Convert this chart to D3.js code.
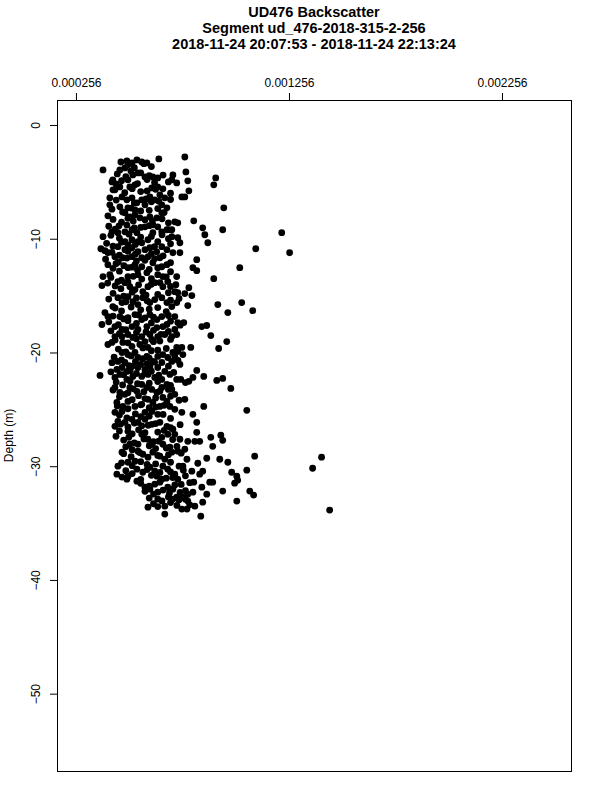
<!DOCTYPE html>
<html>
<head>
    <meta charset="utf-8">
    <title>UD476 Backscatter</title>
    <script src="https://d3js.org/d3.v7.min.js"></script>
    <style>
        body { margin: 0; background: #fff; }
        svg { display: block; font-family: "Liberation Sans", Arial, Helvetica, sans-serif; }
    </style>
</head>
<body>
    <div id="chart"></div>

    <script>
        // chart text
        const titleLines = [
            "UD476 Backscatter",
            "Segment ud_476-2018-315-2-256",
            "2018-11-24 20:07:53 - 2018-11-24 22:13:24"
        ];
        const yLabel = "Depth (m)";
        const xTicks = [0.000256, 0.001256, 0.002256];
        const yTicks = [0, -10, -20, -30, -40, -50];
        const xLimits = [0.000167, 0.00258];
        const yLimits = [2.2, -56.8];

        // samples, depth (m) and backscatter, same order
        const depth = [
            -2.81,-2.98,-3.25,-3.16,-3.33,-3.07,-3.25,-3.33,-3.95,-3.95,
            -3.77,-4.04,-4.39,-4.21,-4.56,-4.56,-4.65,-4.39,-4.82,-4.12,
            -5.0,-4.82,-4.91,-5.70,-5.44,-5.44,-5.26,-5.53,-5.44,-5.61,
            -5.09,-6.32,-6.32,-5.79,-6.40,-4.82,-5.18,-4.65,-5.26,-7.28,
            -6.32,-6.58,-6.40,-6.84,-6.58,-6.32,-6.58,-6.14,-6.40,-7.02,
            -7.19,-7.28,-7.46,-7.02,-7.02,-7.28,-7.98,-7.72,-8.07,-7.89,
            -8.16,-8.33,-8.07,-8.16,-7.72,-8.86,-8.95,-8.77,-8.95,-8.51,
            -8.60,-8.42,-9.04,-9.65,-10.35,-9.21,-9.82,-9.39,-9.47,-9.39,
            -9.21,-9.47,-9.47,-9.39,-9.21,-9.21,-9.82,-9.91,-10.26,-10.09,
            -10.26,-10.09,-10.26,-9.47,-10.88,-11.05,-11.23,-10.70,-10.96,-10.79,
            -11.14,-10.96,-10.79,-10.70,-10.96,-11.23,-10.35,-11.58,-11.67,-11.58,
            -11.67,-11.58,-11.67,-11.84,-10.88,-11.23,-11.23,-12.28,-12.19,-12.37,
            -12.54,-12.28,-12.46,-12.11,-12.46,-12.28,-12.54,-12.81,-12.54,-13.33,
            -13.16,-13.33,-13.16,-12.98,-13.16,-13.33,-13.33,-13.51,-14.12,-13.77,
            -13.86,-14.21,-14.39,-14.47,-14.65,-14.21,-13.86,-14.21,-13.77,-14.65,
            -14.74,-14.04,-14.30,-14.82,-15.00,-15.18,-15.61,-15.09,-15.53,-15.79,
            -15.18,-15.61,-15.35,-15.18,-15.61,-15.96,-15.96,-16.49,-16.84,-15.61,
            -15.88,-15.79,-15.61,-16.84,-16.93,-16.67,-17.11,-16.67,-17.11,-16.84,
            -16.84,-17.37,-17.98,-16.49,-16.32,-17.54,-17.72,-17.98,-17.72,-17.98,
            -17.72,-17.81,-17.72,-17.54,-17.37,-17.72,-17.63,-18.51,-18.42,-18.60,
            -18.60,-18.42,-18.68,-18.60,-18.42,-18.60,-18.42,-18.60,-19.04,-18.86,
            -19.30,-19.12,-19.12,-19.47,-19.30,-19.56,-19.56,-19.56,-19.91,-20.35,
            -19.56,-19.04,-19.65,-20.00,-20.18,-20.00,-20.44,-20.35,-20.18,-20.44,
            -20.79,-20.00,-20.79,-20.88,-20.79,-20.88,-21.05,-20.18,-22.02,-21.49,
            -21.32,-21.67,-21.23,-21.32,-21.49,-21.23,-21.32,-21.67,-22.19,-21.93,
            -22.37,-22.11,-22.11,-21.93,-22.19,-22.37,-21.93,-22.37,-22.37,-22.54,
            -22.19,-21.58,-22.11,-22.46,-22.28,-23.16,-23.07,-23.51,-23.68,-23.07,
            -23.42,-22.81,-23.07,-23.25,-23.51,-23.07,-22.81,-23.25,-23.68,-23.95,
            -24.12,-24.39,-24.74,-24.30,-24.74,-24.56,-24.12,-24.39,-24.74,-24.30,
            -24.74,-25.26,-25.18,-25.26,-25.18,-25.44,-25.26,-25.44,-26.14,-24.74,
            -25.09,-26.05,-26.14,-25.88,-26.14,-25.88,-26.32,-26.14,-26.49,-26.75,
            -26.93,-26.49,-27.46,-28.07,-27.19,-27.63,-28.07,-27.46,-27.19,-27.63,
            -27.81,-27.02,-27.81,-27.81,-27.46,-28.25,-27.28,-27.72,-28.07,-28.07,
            -28.33,-28.77,-28.68,-28.95,-29.21,-28.77,-29.12,-29.39,-28.77,-28.68,
            -28.51,-29.39,-29.74,-29.65,-29.56,-29.12,-29.21,-30.18,-29.30,-29.39,
            -29.65,-30.00,-30.00,-30.26,-30.53,-30.09,-30.44,-30.00,-30.26,-30.70,
            -30.70,-30.96,-31.14,-30.88,-31.14,-30.44,-31.14,-30.35,-30.53,-30.88,
            -31.23,-31.49,-31.40,-31.40,-31.40,-30.44,-30.70,-31.32,-31.84,-32.02,
            -31.58,-32.28,-31.84,-32.02,-32.72,-32.72,-32.46,-31.84,-32.19,-32.19,
            -32.54,-33.07,-32.46,-33.16,-33.07,-33.77,-33.77,-34.39,-33.86,-32.89,
            -32.28,-32.89,-33.60,-33.51,-34.21,-33.51,-27.37
        ];
        const backscatter = [
            0.000767,0.000645,0.000467,0.000495,0.000519,0.000542,0.000565,0.000589,0.000383,0.000462,
            0.000486,0.000514,0.000523,0.000547,0.000580,0.000617,0.000640,0.000711,0.000706,0.000772,
            0.000425,0.000500,0.000781,0.000439,0.000462,0.000509,0.000533,0.000612,0.000640,0.000664,
            0.000729,0.000753,0.000767,0.000786,0.000415,0.000429,0.000444,0.000912,0.000903,0.000950,
            0.000472,0.000495,0.000519,0.000542,0.000565,0.000603,0.000626,0.000650,0.000673,0.000415,
            0.000462,0.000500,0.000533,0.000580,0.000659,0.000683,0.000406,0.000486,0.000509,0.000533,
            0.000556,0.000580,0.000603,0.000636,0.000659,0.000458,0.000580,0.000617,0.000640,0.000720,
            0.000734,0.000809,0.000851,0.000861,0.000875,0.000945,0.000383,0.000425,0.000453,0.000486,
            0.000519,0.000542,0.000617,0.000659,0.000683,0.000706,0.000706,0.000734,0.000486,0.000519,
            0.000547,0.000594,0.000640,0.001222,0.000373,0.000392,0.000406,0.000453,0.000486,0.000519,
            0.000547,0.000580,0.000603,0.000659,0.000683,0.000711,0.000744,0.000439,0.000476,0.000519,
            0.000565,0.000594,0.000650,0.000823,0.001100,0.001259,0.000744,0.000406,0.000444,0.000481,
            0.000500,0.000533,0.000565,0.000617,0.000659,0.000683,0.000805,0.000823,0.001025,0.000383,
            0.000415,0.000500,0.000547,0.000589,0.000640,0.000664,0.000729,0.000903,0.000378,0.000453,
            0.000486,0.000509,0.000467,0.000533,0.000570,0.000594,0.000626,0.000664,0.000687,0.000720,
            0.000734,0.000725,0.000786,0.000767,0.000800,0.000453,0.000472,0.000500,0.000523,0.000547,
            0.000570,0.000603,0.000626,0.000659,0.000683,0.000706,0.000429,0.000392,0.000406,0.000729,
            0.000781,0.000922,0.001034,0.000462,0.000500,0.000533,0.000565,0.000603,0.000636,0.000659,
            0.000720,0.000734,0.000720,0.000969,0.001086,0.000378,0.000439,0.000472,0.000519,0.000547,
            0.000589,0.000636,0.000664,0.000683,0.000762,0.000847,0.000870,0.000889,0.000729,0.000439,
            0.000472,0.000500,0.000523,0.000565,0.000603,0.000640,0.000673,0.000706,0.000580,0.000612,
            0.000406,0.000425,0.000476,0.000519,0.000556,0.000594,0.000729,0.000753,0.000734,0.000720,
            0.000795,0.000964,0.000926,0.000472,0.000500,0.000533,0.000547,0.000589,0.000664,0.000687,
            0.000706,0.000711,0.000453,0.000486,0.000617,0.000659,0.000744,0.000758,0.000369,0.000448,
            0.000472,0.000495,0.000519,0.000547,0.000580,0.000603,0.000640,0.000673,0.000439,0.000462,
            0.000495,0.000523,0.000565,0.000594,0.000626,0.000659,0.000697,0.000729,0.000748,0.000786,
            0.000805,0.000823,0.000856,0.000917,0.000945,0.000983,0.000439,0.000462,0.000486,0.000509,
            0.000542,0.000565,0.000589,0.000612,0.000636,0.000659,0.000683,0.000706,0.000720,0.000664,
            0.000767,0.000448,0.000476,0.000500,0.000533,0.000565,0.000594,0.000617,0.000650,0.000683,
            0.000697,0.000439,0.000472,0.000580,0.000612,0.000640,0.000753,0.000805,0.000823,0.000856,
            0.001058,0.000453,0.000486,0.000519,0.000547,0.000580,0.000612,0.000650,0.000683,0.000711,
            0.000500,0.000439,0.000504,0.000509,0.000565,0.000594,0.000612,0.000659,0.000687,0.000744,
            0.000781,0.000823,0.000814,0.000837,0.000889,0.000898,0.000936,0.000945,0.000547,0.000664,
            0.000697,0.000472,0.000547,0.000570,0.000594,0.000617,0.000650,0.000673,0.000706,0.000734,
            0.000767,0.000777,0.000828,0.000500,0.000533,0.001095,0.001409,0.001367,0.000870,0.000931,
            0.000969,0.000758,0.000453,0.000542,0.000570,0.000603,0.000626,0.000664,0.000687,0.000720,
            0.000448,0.000472,0.000495,0.000636,0.000659,0.000800,0.000734,0.001058,0.000987,0.001011,
            0.001015,0.001001,0.000884,0.000898,0.000809,0.000851,0.000837,0.000542,0.000580,0.000603,
            0.000626,0.000640,0.000687,0.000711,0.000729,0.000758,0.000781,0.000847,0.000945,0.001072,
            0.001090,0.001011,0.000870,0.000851,0.000781,0.000753,0.000777,0.000842,0.001447,0.000711,
            0.000805,0.000640,0.000594,0.000673,0.000673,0.000814,0.000444
        ];

        // the overlapping samples inside the dense core, one line per depth band
        const depthCore = [
            -3.5,-3.75,-3.4,-3.65,
            -4.3,-4.55,-4.2,-4.45,-4.4,
            -4.9,-5.15,-4.8,-5.05,-5.0,
            -5.7,-5.95,-5.6,-5.85,-5.8,-5.65,-6.0,
            -6.6,-6.85,-6.5,-6.75,-6.7,-6.55,
            -7.4,-7.65,-7.3,-7.55,-7.5,-7.35,-7.7,
            -8.3,-8.55,-8.2,-8.45,-8.4,-8.25,-8.6,
            -8.9,-9.15,-8.8,-9.05,-9.0,-8.85,-9.2,
            -9.7,-9.95,-9.6,-9.85,-9.8,-9.65,-10.0,
            -10.4,-10.65,-10.3,-10.55,-10.5,-10.35,-10.7,-10.45,
            -11.2,-11.45,-11.1,-11.35,-11.3,-11.15,-11.5,
            -11.8,-12.05,-11.7,-11.95,-11.9,-11.75,-12.1,
            -12.6,-12.85,-12.5,-12.75,-12.7,-12.55,-12.9,
            -13.4,-13.65,-13.3,-13.55,-13.5,-13.35,
            -13.9,-14.15,-13.8,-14.05,-14.0,-13.85,-14.2,
            -14.8,-15.05,-14.7,-14.95,-14.9,-14.75,
            -15.3,-15.55,-15.2,-15.45,-15.4,-15.25,
            -16.1,-16.35,-16.0,-16.25,-16.2,-16.05,-16.4,
            -16.8,-17.05,-16.7,-16.95,-16.9,-16.75,
            -17.3,-17.55,-17.2,-17.45,-17.4,-17.25,-17.6,
            -18.1,-18.35,-18.0,-18.25,-18.2,-18.05,-18.4,-18.15,
            -18.9,-19.15,-18.8,-19.05,-19.0,-18.85,
            -19.7,-19.95,-19.6,-19.85,-19.8,-19.65,
            -20.4,-20.65,-20.3,-20.55,-20.5,-20.35,-20.7,
            -20.9,-21.15,-20.8,-21.05,-21.0,-20.85,-21.2,
            -21.7,-21.95,-21.6,-21.85,-21.8,-21.65,-22.0,-21.75,
            -22.6,-22.85,-22.5,-22.75,-22.7,-22.55,-22.9,-22.65,
            -23.3,-23.55,-23.2,-23.45,-23.4,-23.25,
            -23.9,-24.15,-23.8,-24.05,-24.0,-23.85,-24.2,
            -24.7,-24.95,-24.6,-24.85,-24.8,-24.65,-25.0,
            -25.5,-25.75,-25.4,-25.65,-25.6,-25.45,-25.8,
            -26.3,-26.55,-26.2,-26.45,-26.4,-26.25,-26.6,-26.35,
            -26.9,-27.15,-26.8,-27.05,-27.0,-26.85,-27.2,
            -27.7,-27.95,-27.6,-27.85,-27.8,-27.65,
            -28.3,-28.55,-28.2,-28.45,-28.4,-28.25,
            -28.9,-29.15,-28.8,-29.05,-29.0,-28.85,
            -29.7,-29.95,-29.6,-29.85,-29.8,-29.65,-30.0,
            -30.4,-30.65,-30.3,-30.55,-30.5,-30.35,
            -30.9,-31.15,-30.8,-31.05,-31.0,-30.85,
            -31.5,-31.75,-31.4,-31.65,-31.6,-31.45,
            -32.2,-32.45,-32.1,-32.35,-32.3,-32.15,
            -32.8,-33.05,-32.7,-32.95,-32.9,
            -33.3,-33.55,-33.2,-33.45,-33.4
        ];
        const backscatterCore = [
            0.000500,0.000530,0.000575,0.000610,
            0.000450,0.000490,0.000560,0.000600,0.000665,
            0.000470,0.000545,0.000590,0.000625,0.000690,
            0.000430,0.000485,0.000520,0.000560,0.000590,0.000630,0.000700,
            0.000445,0.000530,0.000585,0.000610,0.000645,0.000700,
            0.000425,0.000475,0.000515,0.000560,0.000600,0.000640,0.000670,
            0.000430,0.000470,0.000500,0.000525,0.000615,0.000660,0.000690,
            0.000410,0.000440,0.000495,0.000530,0.000560,0.000600,0.000690,
            0.000420,0.000460,0.000505,0.000560,0.000610,0.000660,0.000690,
            0.000400,0.000430,0.000470,0.000500,0.000535,0.000565,0.000625,0.000700,
            0.000425,0.000460,0.000500,0.000535,0.000610,0.000635,0.000665,
            0.000395,0.000455,0.000495,0.000540,0.000580,0.000625,0.000700,
            0.000430,0.000460,0.000520,0.000545,0.000600,0.000640,0.000700,
            0.000420,0.000470,0.000525,0.000565,0.000610,0.000680,
            0.000405,0.000440,0.000500,0.000550,0.000610,0.000650,0.000700,
            0.000430,0.000480,0.000520,0.000585,0.000640,0.000690,
            0.000410,0.000490,0.000540,0.000590,0.000700,0.000740,
            0.000440,0.000470,0.000515,0.000560,0.000600,0.000640,0.000680,
            0.000430,0.000480,0.000550,0.000580,0.000620,0.000690,
            0.000410,0.000455,0.000500,0.000540,0.000610,0.000700,0.000745,
            0.000420,0.000460,0.000490,0.000540,0.000585,0.000620,0.000655,0.000690,
            0.000440,0.000500,0.000540,0.000620,0.000650,0.000700,
            0.000455,0.000490,0.000570,0.000610,0.000640,0.000680,
            0.000435,0.000470,0.000515,0.000570,0.000600,0.000640,0.000735,
            0.000425,0.000505,0.000535,0.000560,0.000590,0.000625,0.000690,
            0.000420,0.000480,0.000510,0.000540,0.000580,0.000610,0.000645,0.000715,
            0.000445,0.000475,0.000510,0.000545,0.000600,0.000640,0.000700,0.000770,
            0.000430,0.000500,0.000525,0.000575,0.000650,0.000690,
            0.000460,0.000520,0.000550,0.000580,0.000630,0.000700,0.000740,
            0.000450,0.000500,0.000560,0.000600,0.000630,0.000670,0.000720,
            0.000460,0.000495,0.000535,0.000560,0.000600,0.000665,0.000700,
            0.000465,0.000500,0.000530,0.000565,0.000595,0.000630,0.000700,0.000745,
            0.000460,0.000520,0.000550,0.000580,0.000640,0.000670,0.000720,
            0.000480,0.000530,0.000575,0.000620,0.000645,0.000710,
            0.000490,0.000520,0.000600,0.000630,0.000680,0.000730,
            0.000480,0.000515,0.000555,0.000640,0.000690,0.000750,
            0.000470,0.000520,0.000560,0.000590,0.000630,0.000700,0.000740,
            0.000490,0.000520,0.000590,0.000650,0.000700,0.000760,
            0.000500,0.000560,0.000610,0.000680,0.000710,0.000770,
            0.000560,0.000600,0.000650,0.000720,0.000750,0.000790,
            0.000580,0.000620,0.000665,0.000695,0.000745,0.000770,
            0.000600,0.000660,0.000690,0.000740,0.000770,
            0.000620,0.000640,0.000700,0.000730,0.000790
        ];

        const width = 600;
        const height = 800;
        const margin = {top: 100, right: 29, bottom: 29, left: 57};

        const svg = d3.select("#chart").append("svg")
            .attr("width", width)
            .attr("height", height);

        const x = d3.scaleLinear()
            .domain(xLimits)
            .range([margin.left, width - margin.right]);

        const y = d3.scaleLinear()
            .domain(yLimits)
            .range([margin.top, height - margin.bottom]);

        // title, three bold lines
        svg.append("g")
            .selectAll("text")
            .data(titleLines)
            .join("text")
            .attr("x", (margin.left + width - margin.right) / 2)
            .attr("y", (d, i) => 17 + i * 15.8)
            .attr("text-anchor", "middle")
            .style("font-size", "14.5px")
            .style("font-weight", "bold")
            .text(d => d);

        // points
        const pts = depth.map((d, i) => ({depth: d, value: backscatter[i]}))
            .concat(depthCore.map((d, i) => ({depth: d, value: backscatterCore[i]})));
        svg.append("g")
            .selectAll("circle")
            .data(pts)
            .join("circle")
            .attr("cx", d => x(d.value))
            .attr("cy", d => y(d.depth))
            .attr("r", 3.4)
            .attr("fill", "#000");

        // top axis
        const xAxis = svg.append("g")
            .attr("transform", `translate(0,${margin.top})`)
            .call(d3.axisTop(x)
                .tickValues(xTicks)
                .tickFormat(d3.format(".6f"))
                .tickSize(7)
                .tickPadding(6));
        xAxis.select(".domain").remove();
        xAxis.selectAll("text").style("font-size", "12px").attr("fill", "#000");
        xAxis.selectAll("line").attr("stroke", "#000");

        // left axis, labels parallel to the axis
        const yAxis = svg.append("g")
            .attr("transform", `translate(${margin.left},0)`)
            .call(d3.axisLeft(y)
                .tickValues(yTicks)
                .tickSize(7));
        yAxis.select(".domain").remove();
        yAxis.selectAll("line").attr("stroke", "#000");
        yAxis.selectAll("text")
            .attr("transform", "rotate(-90)")
            .attr("x", 0)
            .attr("y", -17)
            .attr("dy", 0)
            .attr("text-anchor", "middle")
            .attr("fill", "#000")
            .style("font-size", "12px");

        svg.append("text")
            .attr("transform", `translate(13,${(margin.top + height - margin.bottom) / 2}) rotate(-90)`)
            .attr("text-anchor", "middle")
            .style("font-size", "12px")
            .text(yLabel);

        // plot box
        svg.append("rect")
            .attr("x", margin.left + 0.5)
            .attr("y", margin.top + 0.5)
            .attr("width", width - margin.left - margin.right)
            .attr("height", height - margin.top - margin.bottom)
            .attr("fill", "none")
            .attr("stroke", "#000")
            .attr("stroke-width", 1);
    </script>
</body>
</html>
